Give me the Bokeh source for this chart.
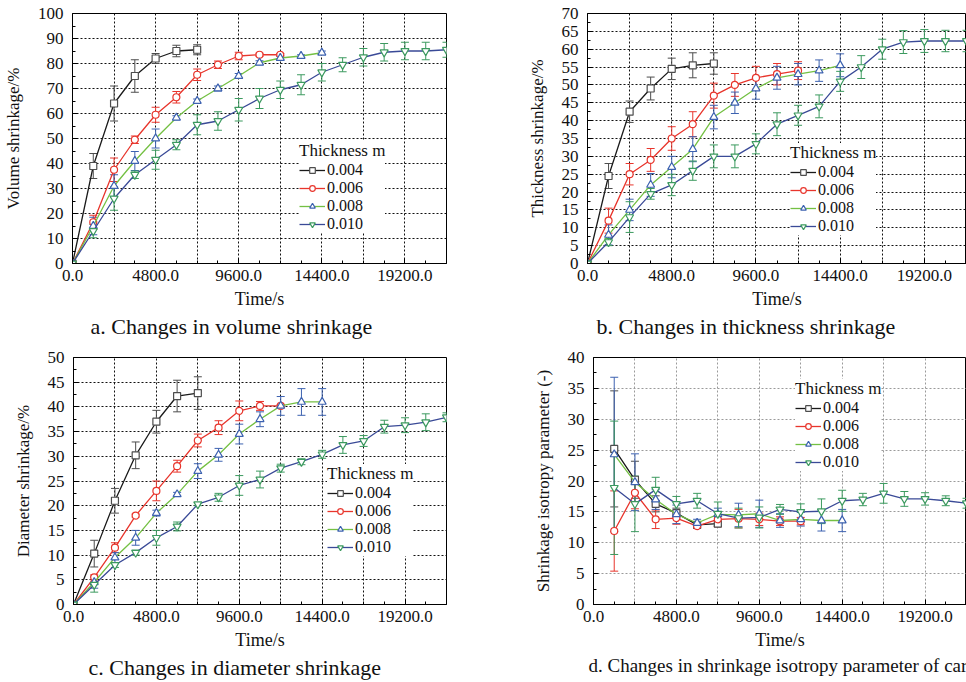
from bokeh.plotting import figure
from bokeh.models import (FixedTicker, NumeralTickFormatter, Range1d, Whisker, TeeHead,
                          ColumnDataSource, Legend, LegendItem, Title)
from bokeh.layouts import column, row
from bokeh.embed import file_html
from bokeh.resources import INLINE

FONT = "Liberation Serif"

# ---------------- data ----------------
TIME = [0, 1200, 2400, 3600, 4800, 6000, 7200, 8400, 9600, 10800, 12000,
        13200, 14400, 15600, 16800, 18000, 19200, 20400, 21600]
X_TICKS = [0, 4800, 9600, 14400, 19200]
THICKNESS = ["0.004", "0.006", "0.008", "0.010"]

# a. volume shrinkage (%)
vol_004 = [0, 39, 64, 75, 82, 85, 85.5]
vol_004_err = [0, 5, 7, 6.5, 2, 2.3, 2]
vol_006 = [0, 16.5, 37.5, 49.5, 59.5, 66.5, 75.5, 79.5, 83, 83.5, 83.5]
vol_006_err = [0, 2.8, 4.7, 1.5, 3, 2.3, 2.3, 1.5, 1.5, 0.6, 0.5]
vol_008 = [0, 15, 31, 41, 50, 58.3, 65, 70, 75, 80.3, 82.2, 83, 84.3]
vol_008_err = [0, 3.5, 4.5, 3.8, 3.8, 0.8, 0.8, 1, 1, 0.8, 0.8, 0.5, 0.7]
vol_010 = [0, 13, 26, 35.5, 41.5, 47.5, 55.5, 57, 61.5, 66, 69.5, 71.5, 76.5,
           79.5, 82.5, 84.5, 85, 85, 85.5]
vol_010_err = [0, 2.7, 4.7, 1.5, 3.8, 2, 4, 3.7, 4.5, 4, 3.5, 4, 3.5, 2.8, 3.5,
               3.5, 3.5, 3.5, 3]

# b. thickness shrinkage (%)
thk_004 = [0, 24.5, 42.5, 49, 54.5, 55.5, 56]
thk_004_err = [0, 3.5, 3, 3.2, 3, 3.5, 3]
thk_006 = [0, 12, 25, 29, 35, 39, 47, 50, 52, 53, 54]
thk_006_err = [0, 3.5, 3, 3.2, 3.3, 3.5, 3.5, 3.2, 3.2, 3, 2.5]
thk_008 = [0, 8, 15, 22, 27, 32, 41, 45, 49, 52, 53, 54, 55.5]
thk_008_err = [0, 2.8, 3, 3.2, 3, 3.5, 3.3, 3, 3, 3.2, 3, 3, 3.2]
thk_010 = [0, 6, 13, 19.5, 22, 26, 30, 30, 33.5, 39, 41.5, 44, 51, 55, 60, 62,
           62.3, 62.3, 62.3]
thk_010_err = [0, 1, 4.3, 1.5, 3, 2.7, 3.2, 3.2, 2.8, 3.2, 2.8, 3.2, 2.8, 3.2,
               2.8, 3.2, 3.2, 3, 3]

# c. diameter shrinkage (%)
dia_004 = [0, 10.3, 21, 30.2, 37, 42.2, 42.8]
dia_004_err = [0, 2.7, 2.5, 2.7, 2.3, 3.2, 3.3]
dia_006 = [0, 5.5, 11.5, 18, 23, 28, 33.2, 35.8, 39.2, 40.2, 40.2]
dia_006_err = [0, 0.5, 1, 0.3, 2, 1.2, 1.3, 1.4, 2, 0.9, 0.3]
dia_008 = [0, 4.5, 9.5, 13.5, 18.5, 22.3, 27, 30.3, 34.5, 37.5, 40.2, 41, 41]
dia_008_err = [0, 1.2, 1, 1.5, 0.6, 0.4, 1.5, 1.3, 2, 1.5, 1.9, 2.7, 2.7]
dia_010 = [0, 4, 8, 10.5, 13.5, 15.8, 20.3, 21.7, 24.1, 25.3, 27.6, 28.9, 30.4,
           32.3, 33.1, 36, 36.3, 36.9, 37.9]
dia_010_err = [0, 1.5, 0.5, 0.5, 1.5, 0.9, 0.3, 0.8, 2, 1.7, 0.8, 0.6, 0.8, 1.7,
               1.1, 1.3, 1.5, 1.7, 0.9]

# d. shrinkage isotropy parameter (-), starts at 1200 s
iso_004 = [25.2, 20.2, 16.3, 14.8, 12.9, 13.1]
iso_004_err = [9.4, 3, 1.3, 0.8, 0.5, 0.5]
iso_006 = [11.9, 18.1, 13.8, 14.0, 12.7, 13.8, 13.9, 13.8, 13.5, 13.5]
iso_006_err = [6.5, 2.6, 1.5, 1.0, 0.3, 1.2, 1.5, 1.0, 0.7, 0.6]
iso_008 = [24.3, 19.8, 17.0, 14.6, 13.2, 14.6, 14.5, 14.7, 13.6, 13.8, 13.6, 13.6]
iso_008_err = [12.5, 4.6, 1.6, 1.5, 0.6, 1.0, 1.9, 2.2, 1.1, 1.1, 1.7, 1.8]
iso_010 = [18.9, 16.3, 18.6, 16.3, 16.8, 14.7, 14.0, 14.1, 15.4, 15.0, 15.1,
           16.8, 17.0, 18.0, 17.1, 17.1, 16.8, 16.4]
iso_010_err = [10.8, 4.5, 2.0, 1.2, 1.2, 1.9, 1.6, 1.7, 0.8, 1.3, 2.0, 1.7, 1.0,
               1.6, 1.2, 1.0, 0.8, 0.8]

# ---------------- styles ----------------
LINE_COLORS = ["#1a1a1a", "#e8352c", "#74c043", "#3a4a97"]
MARK_COLORS = ["#4d4d4d", "#e8352c", "#3d62b0", "#3c9a5f"]
MARKERS = ["square", "circle", "triangle", "inverted_triangle"]
MSIZES = [7, 7, 8, 8]


def make_panel(width, height, borders, ymax, ystep, ylabel, grid_color):
    left, right, top, bottom = borders
    p = figure(width=width, height=height, x_range=Range1d(0, 21600),
               y_range=Range1d(0, ymax), output_backend="svg",
               toolbar_location=None, min_border_left=left,
               min_border_right=right, min_border_top=top,
               min_border_bottom=bottom)
    p.outline_line_color = "black"
    p.outline_line_width = 1
    p.outline_line_alpha = 1
    p.background_fill_color = "white"
    p.border_fill_color = "white"

    yt = list(range(0, ymax + 1, ystep))
    ymin = [v + ystep / 2 for v in yt[:-1]]
    p.xaxis.ticker = FixedTicker(ticks=X_TICKS, minor_ticks=TIME)
    p.xaxis.formatter = NumeralTickFormatter(format="0.0")
    p.yaxis.ticker = FixedTicker(ticks=yt, minor_ticks=ymin)
    for ax in (p.xaxis[0], p.yaxis[0]):
        ax.major_tick_in = 5
        ax.major_tick_out = 0
        ax.minor_tick_in = 3
        ax.minor_tick_out = 0
        ax.axis_line_color = "black"
        ax.major_tick_line_color = "black"
        ax.minor_tick_line_color = "black"
        ax.major_label_text_font = FONT
        ax.major_label_text_font_size = "17px"
        ax.major_label_text_color = "#111111"
        ax.axis_label_text_font = FONT
        ax.axis_label_text_font_style = "normal"
        ax.axis_label_text_color = "#111111"
    p.xaxis.axis_label_text_font_size = "18px"
    p.yaxis.axis_label_text_font_size = "17px"
    p.xaxis.major_label_standoff = 6
    p.xaxis.axis_label_standoff = 5
    p.yaxis.major_label_standoff = 9
    p.yaxis.axis_label_standoff = 12
    p.xaxis.axis_label = "Time/s"
    p.yaxis.axis_label = ylabel

    p.xgrid.ticker = FixedTicker(ticks=[2400 * k for k in range(1, 9)])
    p.ygrid.ticker = FixedTicker(ticks=yt[1:-1])
    for g in (p.xgrid[0], p.ygrid[0]):
        g.grid_line_color = grid_color
        g.grid_line_dash = "2 2"
        g.grid_line_width = 1
    return p


def add_series(p, idx, t, y, err):
    src = ColumnDataSource(dict(x=t, y=y))
    wx = [a for a, e in zip(t, err) if e > 0]
    wy_lo = [v - e for v, e in zip(y, err) if e > 0]
    wy_hi = [v + e for v, e in zip(y, err) if e > 0]
    wsrc = ColumnDataSource(dict(x=wx, lo=wy_lo, hi=wy_hi))
    mc = MARK_COLORS[idx]
    ln = p.line("x", "y", source=src, line_color=LINE_COLORS[idx], line_width=1.3)
    w = Whisker(source=wsrc, base="x", lower="lo", upper="hi", line_color=mc,
                line_width=1,
                upper_head=TeeHead(size=8, line_color=mc, line_width=1),
                lower_head=TeeHead(size=8, line_color=mc, line_width=1))
    p.add_layout(w)
    sc = p.scatter("x", "y", source=src, marker=MARKERS[idx], size=MSIZES[idx],
                   line_color=mc, fill_color="white", line_width=1.2)
    return [ln, sc]


def add_legend(p, rends, loc):
    items = [LegendItem(label=THICKNESS[i], renderers=rends[i]) for i in range(4)]
    lg = Legend(items=items, location=loc, title="Thickness m")
    lg.title_text_font = FONT
    lg.title_text_font_size = "17px"
    lg.title_text_font_style = "normal"
    lg.title_text_color = "#111111"
    lg.title_standoff = 0
    lg.label_text_font = FONT
    lg.label_text_font_size = "16px"
    lg.label_text_color = "#111111"
    lg.label_height = 12
    lg.glyph_height = 14
    lg.glyph_width = 26
    lg.label_standoff = 2
    lg.spacing = -5
    lg.padding = 5
    lg.margin = 0
    lg.border_line_color = None
    lg.background_fill_color = "white"
    lg.background_fill_alpha = 1
    p.add_layout(lg)


def add_caption(p, text, offset, size="22px"):
    p.add_layout(Title(text=text, align="left", offset=offset, standoff=0,
                       text_font=FONT, text_font_size=size,
                       text_font_style="normal", text_color="#111111"), "below")


def fill(p, series, offset):
    rends = []
    for i, (vals, errs) in enumerate(series):
        t = TIME[offset:offset + len(vals)]
        rends.append(add_series(p, i, t, vals, errs))
    return rends


pa = make_panel(480, 340, (70, 34, 13, 77), 100, 10, "Volume shrinkage/%", "#111111")
ra = fill(pa, [(vol_004, vol_004_err), (vol_006, vol_006_err),
               (vol_008, vol_008_err), (vol_010, vol_010_err)], 0)
add_legend(pa, ra, (227, 30))
add_caption(pa, "a. Changes in volume shrinkage", 18)

pb = make_panel(486, 340, (107, 0, 13, 74), 70, 5, "Thickness shrinkage/%", "#111111")
rb = fill(pb, [(thk_004, thk_004_err), (thk_006, thk_006_err),
               (thk_008, thk_008_err), (thk_010, thk_010_err)], 0)
add_legend(pb, rb, (203, 28))
add_caption(pb, "b. Changes in thickness shrinkage", 9)

pc = make_panel(480, 342, (73, 34, 17, 78), 50, 5, "Diameter shrinkage/%", "#111111")
rc = fill(pc, [(dia_004, dia_004_err), (dia_006, dia_006_err),
               (dia_008, dia_008_err), (dia_010, dia_010_err)], 0)
add_legend(pc, rc, (254, 48))
add_caption(pc, "c. Changes in diameter shrinkage", 15)

pd_ = make_panel(486, 342, (113, 0, 17, 78), 40, 5,
                 "Shrinkage isotropy parameter (-)", "#9a9a9a")
rd = fill(pd_, [(iso_004, iso_004_err), (iso_006, iso_006_err),
                (iso_008, iso_008_err), (iso_010, iso_010_err)], 1)
add_legend(pd_, rd, (202, 133))
add_caption(pd_, "d. Changes in shrinkage isotropy parameter of car", -5, "19px")

layout = column(row(pa, pb), row(pc, pd_))
open("out.html", "w").write(file_html(layout, INLINE))
